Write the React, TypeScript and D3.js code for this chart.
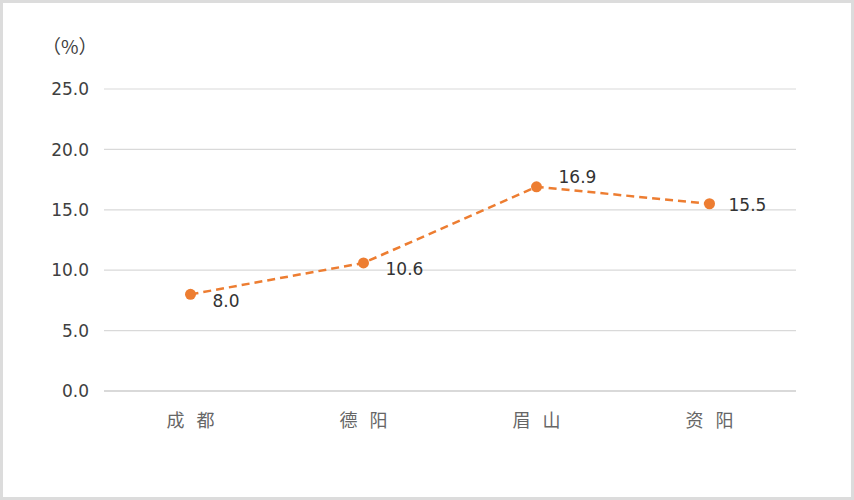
import React from 'react';
import * as d3 from 'd3';

// data
const cities = ['成都', '德阳', '眉山', '资阳'];
const values = [8.0, 10.6, 16.9, 15.5];
const yTicks = [0, 5, 10, 15, 20, 25];
const unitLabel = '（%）';

// label offsets relative to each point (dx, dy)
const labelOffsets: Array<[number, number]> = [
  [22, 7],
  [22, 6],
  [22, -10],
  [19, 1],
];

const width = 854;
const height = 500;
const margin = { top: 89, right: 58, bottom: 109, left: 104 };

export default function App() {
  const innerW = width - margin.left - margin.right;
  const innerH = height - margin.top - margin.bottom;

  const x = d3.scaleBand<string>().domain(cities).range([0, innerW]);
  const y = d3.scaleLinear().domain([0, 25]).range([innerH, 0]);

  const pts = cities.map((c, i) => [
    (x(c) || 0) + x.bandwidth() / 2,
    y(values[i]),
  ] as [number, number]);
  const line = d3.line()(pts) || '';

  return (
    <svg
      width={width}
      height={height}
      style={{ position: 'absolute', left: 0, top: 0, background: '#fff' }}
    >
      <rect x={1.5} y={1.5} width={width - 3} height={height - 3} fill="#fff" stroke="#dcdcdc" strokeWidth={3} />
      <text x={42} y={54} fontFamily="'Noto Sans CJK SC', sans-serif" fontSize={19} fill="#404040">
        {unitLabel}
      </text>
      <g transform={`translate(${margin.left},${margin.top})`}>
        {yTicks.map(t => (
          <g key={t}>
            <line
              x1={0}
              x2={innerW}
              y1={y(t)}
              y2={y(t)}
              stroke="#d9d9d9"
              strokeWidth={t === 0 ? 2 : 1.2}
            />
            <text
              x={-15}
              y={y(t)}
              dy="0.36em"
              textAnchor="end"
              fontFamily="'DejaVu Sans', sans-serif"
              fontSize={17}
              fill="#404040"
            >
              {t.toFixed(1)}
            </text>
          </g>
        ))}
        {cities.map(c => (
          <text
            key={c}
            x={(x(c) || 0) + x.bandwidth() / 2 + 6}
            y={innerH + 30}
            dy="0.36em"
            textAnchor="middle"
            fontFamily="'Noto Sans CJK SC', serif"
            fontSize={18}
            letterSpacing={12}
            fill="#666"
          >
            {c}
          </text>
        ))}
        <path d={line} fill="none" stroke="#ed7d31" strokeWidth={2.5} strokeDasharray="8,5" />
        {pts.map((p, i) => (
          <g key={i}>
            <circle cx={p[0]} cy={p[1]} r={5.5} fill="#ed7d31" />
            <text
              x={p[0] + labelOffsets[i][0]}
              y={p[1] + labelOffsets[i][1]}
              dy="0.36em"
              fontFamily="'DejaVu Sans', sans-serif"
              fontSize={17}
              fill="#333"
            >
              {values[i].toFixed(1)}
            </text>
          </g>
        ))}
      </g>
    </svg>
  );
}
